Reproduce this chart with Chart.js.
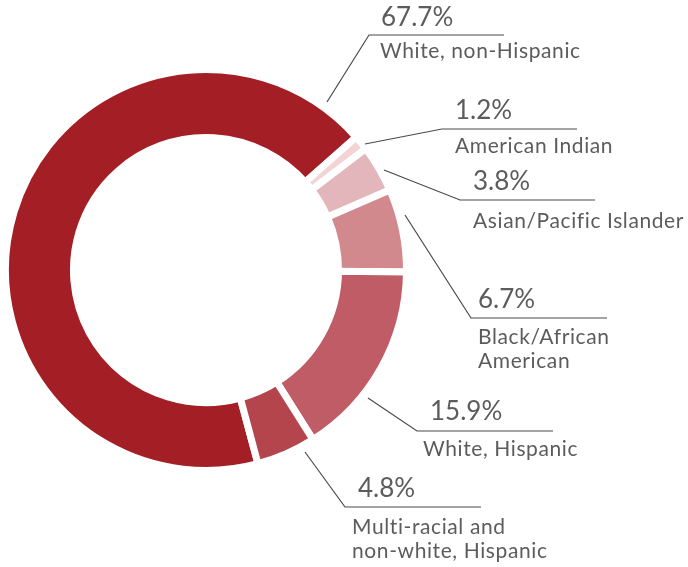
<!DOCTYPE html>
<html>
<head>
<meta charset="utf-8">
<script src="https://cdn.jsdelivr.net/npm/chart.js@4.4.1/dist/chart.umd.min.js"></script>
<style>
    html, body { margin: 0; padding: 0; background: #fff; }
    #wrap { width: 688px; height: 567px; }
</style>
</head>
<body>
<div id="wrap"><canvas id="donutChart" width="688" height="567"></canvas></div>
<script>
// --- Data ---
const categories = [
    ['White, non-Hispanic'],
    ['American Indian'],
    ['Asian/Pacific Islander'],
    ['Black/African', 'American'],
    ['White, Hispanic'],
    ['Multi-racial and', 'non-white, Hispanic']
];
const shares = [67.7, 1.2, 3.8, 6.7, 15.9, 4.8];
const sliceColors = ['#A41F25', '#F2D3D6', '#E2B6BA', '#D1898E', '#C05C65', '#B5454C'];

// Callout placement: leader start, elbow, end of the underline, text anchors
const callouts = [
    { from: [327, 102], elbow: [369, 35],  end: 504, pct: [381, 26],  name: [380, 58] },
    { from: [365, 144], elbow: [442, 129], end: 577, pct: [455, 119], name: [455, 153] },
    { from: [384, 170], elbow: [460, 200], end: 595, pct: [473, 190], name: [473, 228] },
    { from: [405, 215], elbow: [471, 318], end: 607, pct: [478, 308], name: [478, 344] },
    { from: [368, 398], elbow: [417, 431], end: 553, pct: [430, 420], name: [423, 456] },
    { from: [305, 452], elbow: [345, 507], end: 481, pct: [358, 497], name: [352, 534] }
];

const TEXT_COLOR = '#5c5c5c';
const FONT = "Lato, 'Noto Sans', sans-serif";

const calloutPlugin = {
    id: 'callouts',
    afterDraw(chart) {
        const ctx = chart.ctx;
        ctx.save();
        callouts.forEach((c, i) => {
            // leader line + underline
            ctx.beginPath();
            ctx.moveTo(c.from[0], c.from[1]);
            ctx.lineTo(c.elbow[0], c.elbow[1]);
            ctx.lineTo(c.end, c.elbow[1]);
            ctx.strokeStyle = '#4a4a4a';
            ctx.lineWidth = 1.2;
            ctx.stroke();

            ctx.fillStyle = TEXT_COLOR;
            ctx.textAlign = 'left';
            ctx.textBaseline = 'alphabetic';
            ctx.letterSpacing = '0px';
            ctx.font = '26px ' + FONT;
            ctx.fillText(shares[i].toFixed(1) + '%', c.pct[0], c.pct[1]);

            ctx.letterSpacing = '0.6px';
            ctx.font = '21px ' + FONT;
            chart.data.labels[i].forEach((line, k) => {
                ctx.fillText(line, c.name[0], c.name[1] + k * 24);
            });
        });
        ctx.restore();
    }
};

const ctxDonut = document.getElementById('donutChart').getContext('2d');

const donutChart = new Chart(ctxDonut, {
    type: 'doughnut',
    data: {
        labels: categories,
        datasets: [{
            data: shares,
            backgroundColor: sliceColors,
            borderColor: '#ffffff',
            borderWidth: 7,
            borderJoinStyle: 'miter'
        }]
    },
    options: {
        responsive: false,
        animation: false,
        rotation: 165,
        radius: 200.5,
        cutout: '66.1%',
        layout: { padding: { left: 0, top: 0, right: 276, bottom: 27 } },
        plugins: {
            legend: { display: false },
            tooltip: { enabled: false }
        }
    },
    plugins: [calloutPlugin]
});
</script>
</body>
</html>
